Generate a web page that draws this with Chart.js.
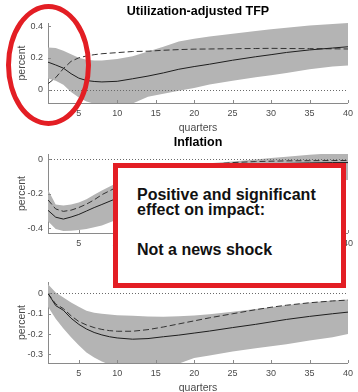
<!DOCTYPE html>
<html>
<head>
<meta charset="utf-8">
<script src="https://cdn.jsdelivr.net/npm/chart.js@4/dist/chart.umd.min.js"></script>
<style>
  html, body { margin: 0; padding: 0; background: #fff; }
  body { width: 358px; height: 392px; overflow: hidden; position: relative; font-family: "Liberation Sans", Arial, sans-serif; }
  canvas { position: absolute; left: 0; }
  #c1 { top: 0; }
  #c2 { top: 131px; }
  #c3 { top: 262px; }
  .ring { position: absolute; left: 6px; top: 4px; width: 85px; height: 122px; box-sizing: border-box;
          border: 5px solid #e31e24; border-radius: 50%; }
  .note { position: absolute; left: 113px; top: 163px; width: 233px; height: 125px; box-sizing: border-box;
          border: 5px solid #e31e24; background: #fff; }
  .note-line { position: absolute; left: 137px; font: bold 16px/16px "Liberation Sans", Arial, sans-serif;
               color: #111; white-space: nowrap; }
</style>
</head>
<body>
<canvas id="c1" width="358" height="136"></canvas>
<canvas id="c2" width="358" height="135"></canvas>
<canvas id="c3" width="358" height="134"></canvas>
<div class="ring"></div>
<div class="note"></div>
<div class="note-line" style="top:186.5px">Positive and significant</div>
<div class="note-line" style="top:202px">effect on impact:</div>
<div class="note-line" style="top:242px">Not a news shock</div>
<script>
// Horizon ticks shared by all three panels
const quarterTicks = [5, 10, 15, 20, 25, 30, 35, 40];

// Utilization-adjusted TFP
const tfpQuarters = [1, 2, 3, 4, 5, 6, 7, 8, 10, 12, 14, 16, 18, 20, 22, 25, 28, 30, 32, 35, 38, 40];
const tfpMedian   = [0.173, 0.155, 0.135, 0.100, 0.072, 0.057, 0.051, 0.048, 0.052, 0.068, 0.085, 0.105, 0.128, 0.145, 0.160, 0.185, 0.207, 0.220, 0.234, 0.250, 0.262, 0.270];
const tfpAlt      = [0.037, 0.075, 0.132, 0.178, 0.200, 0.212, 0.220, 0.226, 0.233, 0.240, 0.242, 0.248, 0.252, 0.255, 0.256, 0.258, 0.259, 0.260, 0.259, 0.258, 0.257, 0.256];
const tfpUpper    = [0.266, 0.262, 0.245, 0.222, 0.200, 0.188, 0.183, 0.183, 0.192, 0.210, 0.240, 0.270, 0.303, 0.320, 0.335, 0.352, 0.370, 0.380, 0.390, 0.405, 0.414, 0.420];
const tfpLower    = [0.070, 0.055, 0.030, -0.015, -0.050, -0.075, -0.090, -0.100, -0.105, -0.088, -0.046, -0.027, -0.007, 0.010, 0.032, 0.055, 0.078, 0.090, 0.105, 0.128, 0.145, 0.152];
const tfpTicks    = [0, 0.2, 0.4];

// Inflation
const infQuarters = [1, 2, 3, 4, 5, 6, 7, 8, 10, 12, 15, 18, 20, 22, 25, 28, 30, 32, 35, 38, 40];
const infMedian   = [-0.296, -0.336, -0.347, -0.335, -0.320, -0.300, -0.280, -0.262, -0.225, -0.185, -0.135, -0.095, -0.075, -0.058, -0.042, -0.032, -0.027, -0.023, -0.020, -0.018, -0.018];
const infAlt      = [-0.235, -0.288, -0.302, -0.295, -0.280, -0.260, -0.235, -0.205, -0.160, -0.125, -0.085, -0.055, -0.040, -0.028, -0.018, -0.012, -0.010, -0.008, -0.007, -0.006, -0.006];
const infUpper    = [-0.176, -0.262, -0.268, -0.262, -0.250, -0.232, -0.205, -0.180, -0.135, -0.100, -0.060, -0.035, -0.028, -0.022, -0.012, 0.000, 0.008, 0.016, 0.027, 0.037, 0.045];
const infLower    = [-0.360, -0.405, -0.416, -0.415, -0.410, -0.405, -0.395, -0.385, -0.350, -0.310, -0.260, -0.220, -0.200, -0.185, -0.170, -0.155, -0.145, -0.137, -0.130, -0.124, -0.120];
const infTicks    = [-0.4, -0.2, 0];

// Third response
const thirdQuarters = [1, 2, 3, 4, 5, 6, 7, 8, 9, 10, 12, 14, 16, 18, 20, 22, 25, 28, 30, 32, 35, 38, 40];
const thirdMedian   = [0, -0.060, -0.083, -0.122, -0.152, -0.175, -0.192, -0.204, -0.213, -0.219, -0.225, -0.222, -0.213, -0.205, -0.195, -0.185, -0.168, -0.152, -0.140, -0.128, -0.113, -0.100, -0.092];
const thirdAlt      = [0, -0.052, -0.075, -0.110, -0.138, -0.155, -0.168, -0.177, -0.183, -0.186, -0.186, -0.178, -0.165, -0.150, -0.135, -0.120, -0.100, -0.080, -0.068, -0.058, -0.046, -0.037, -0.033];
const thirdUpper    = [0.045, 0.005, -0.020, -0.045, -0.065, -0.085, -0.095, -0.100, -0.104, -0.107, -0.110, -0.113, -0.115, -0.112, -0.108, -0.102, -0.090, -0.077, -0.068, -0.058, -0.045, -0.035, -0.030];
const thirdLower    = [-0.066, -0.125, -0.172, -0.215, -0.255, -0.290, -0.315, -0.335, -0.350, -0.360, -0.370, -0.370, -0.360, -0.345, -0.318, -0.305, -0.285, -0.270, -0.260, -0.250, -0.232, -0.215, -0.200];
const thirdTicks    = [-0.3, -0.2, -0.1, 0];

const FONT = '"Liberation Sans", Arial, sans-serif';
const TEXT_GREY = '#4a4a4a';
const AXIS_GREY = '#8a8a8a';
const BAND_GREY = '#b4b4b4';

const pairs = (xs, ys) => xs.map((x, i) => ({ x, y: ys[i] }));
const fmt = v => (Math.abs(v) < 1e-9 ? '0' : String(Math.round(v * 10) / 10));

// Dotted zero line plus short inward tick marks on both axes
const axisDecor = {
  id: 'axisDecor',
  afterDatasetsDraw(chart) {
    const { ctx, chartArea: a, scales: { x, y } } = chart;
    ctx.save();
    ctx.lineWidth = 1;
    ctx.strokeStyle = '#6a6a6a';
    ctx.setLineDash([1, 2]);
    const y0 = Math.round(y.getPixelForValue(0)) + 0.5;
    ctx.beginPath(); ctx.moveTo(a.left, y0); ctx.lineTo(a.right, y0); ctx.stroke();
    ctx.setLineDash([]);
    ctx.strokeStyle = AXIS_GREY;
    ctx.beginPath();
    x.ticks.forEach(t => {
      const px = Math.round(x.getPixelForValue(t.value)) + 0.5;
      ctx.moveTo(px, a.bottom); ctx.lineTo(px, a.bottom - 3);
    });
    y.ticks.forEach(t => {
      const py = Math.round(y.getPixelForValue(t.value)) + 0.5;
      ctx.moveTo(a.left, py); ctx.lineTo(a.left + 3, py);
    });
    ctx.stroke();
    ctx.restore();
  }
};

function panel(id, p) {
  return new Chart(document.getElementById(id), {
    type: 'line',
    data: {
      // lines first so they are painted over the band
      datasets: [
        { data: pairs(p.q, p.median), borderColor: '#1e1e1e', borderWidth: 1, pointRadius: 0, fill: false },
        { data: pairs(p.q, p.alt), borderColor: '#333', borderWidth: 1, borderDash: [6, 3], pointRadius: 0, fill: false },
        { data: pairs(p.q, p.lower), borderWidth: 0, pointRadius: 0, fill: false },
        { data: pairs(p.q, p.upper), borderWidth: 0, pointRadius: 0, fill: '-1', backgroundColor: BAND_GREY }
      ]
    },
    options: {
      responsive: false,
      animation: false,
      devicePixelRatio: 1,
      layout: { padding: { left: 0, right: 6, top: p.padTop, bottom: 0 } },
      plugins: {
        legend: { display: false },
        tooltip: { enabled: false },
        title: {
          display: !!p.title, text: p.title || '', fullSize: false, color: '#000',
          font: { family: FONT, size: 12.5, weight: 'bold' },
          padding: { top: 4.5, bottom: 3.5 }
        }
      },
      scales: {
        x: {
          type: 'linear', min: 1, max: 40,
          grid: { display: false, drawTicks: false },
          border: { display: true, color: AXIS_GREY, width: 1 },
          ticks: { font: { family: FONT, size: 9 }, color: TEXT_GREY, padding: 5, maxRotation: 0 },
          afterBuildTicks: s => { s.ticks = quarterTicks.map(v => ({ value: v })); },
          afterFit: s => { s.height = 33; },
          title: { display: true, text: 'quarters', color: TEXT_GREY, font: { family: FONT, size: 10.5 }, padding: { top: 0, bottom: 1.7 } }
        },
        y: {
          type: 'linear', min: p.min, max: p.max,
          grid: { display: false, drawTicks: false },
          border: { display: true, color: AXIS_GREY, width: 1 },
          ticks: { font: { family: FONT, size: 9 }, color: TEXT_GREY, padding: 5, callback: v => fmt(v) },
          afterBuildTicks: s => { s.ticks = p.ticks.map(v => ({ value: v })); },
          afterFit: s => { s.width = 48; },
          title: { display: true, text: 'percent', color: TEXT_GREY, font: { family: FONT, size: 10.5 }, padding: { top: 16, bottom: 0 } }
        }
      }
    },
    plugins: [axisDecor]
  });
}

panel('c1', { title: 'Utilization-adjusted TFP', padTop: 0, q: tfpQuarters, median: tfpMedian, alt: tfpAlt,
              upper: tfpUpper, lower: tfpLower, ticks: tfpTicks, min: -0.085, max: 0.42 });
panel('c2', { title: 'Inflation', padTop: 0, q: infQuarters, median: infMedian, alt: infAlt,
              upper: infUpper, lower: infLower, ticks: infTicks, min: -0.428, max: 0.032 });
panel('c3', { title: '', padTop: 20, q: thirdQuarters, median: thirdMedian, alt: thirdAlt,
              upper: thirdUpper, lower: thirdLower, ticks: thirdTicks, min: -0.342, max: 0.056 });
</script>
</body>
</html>
